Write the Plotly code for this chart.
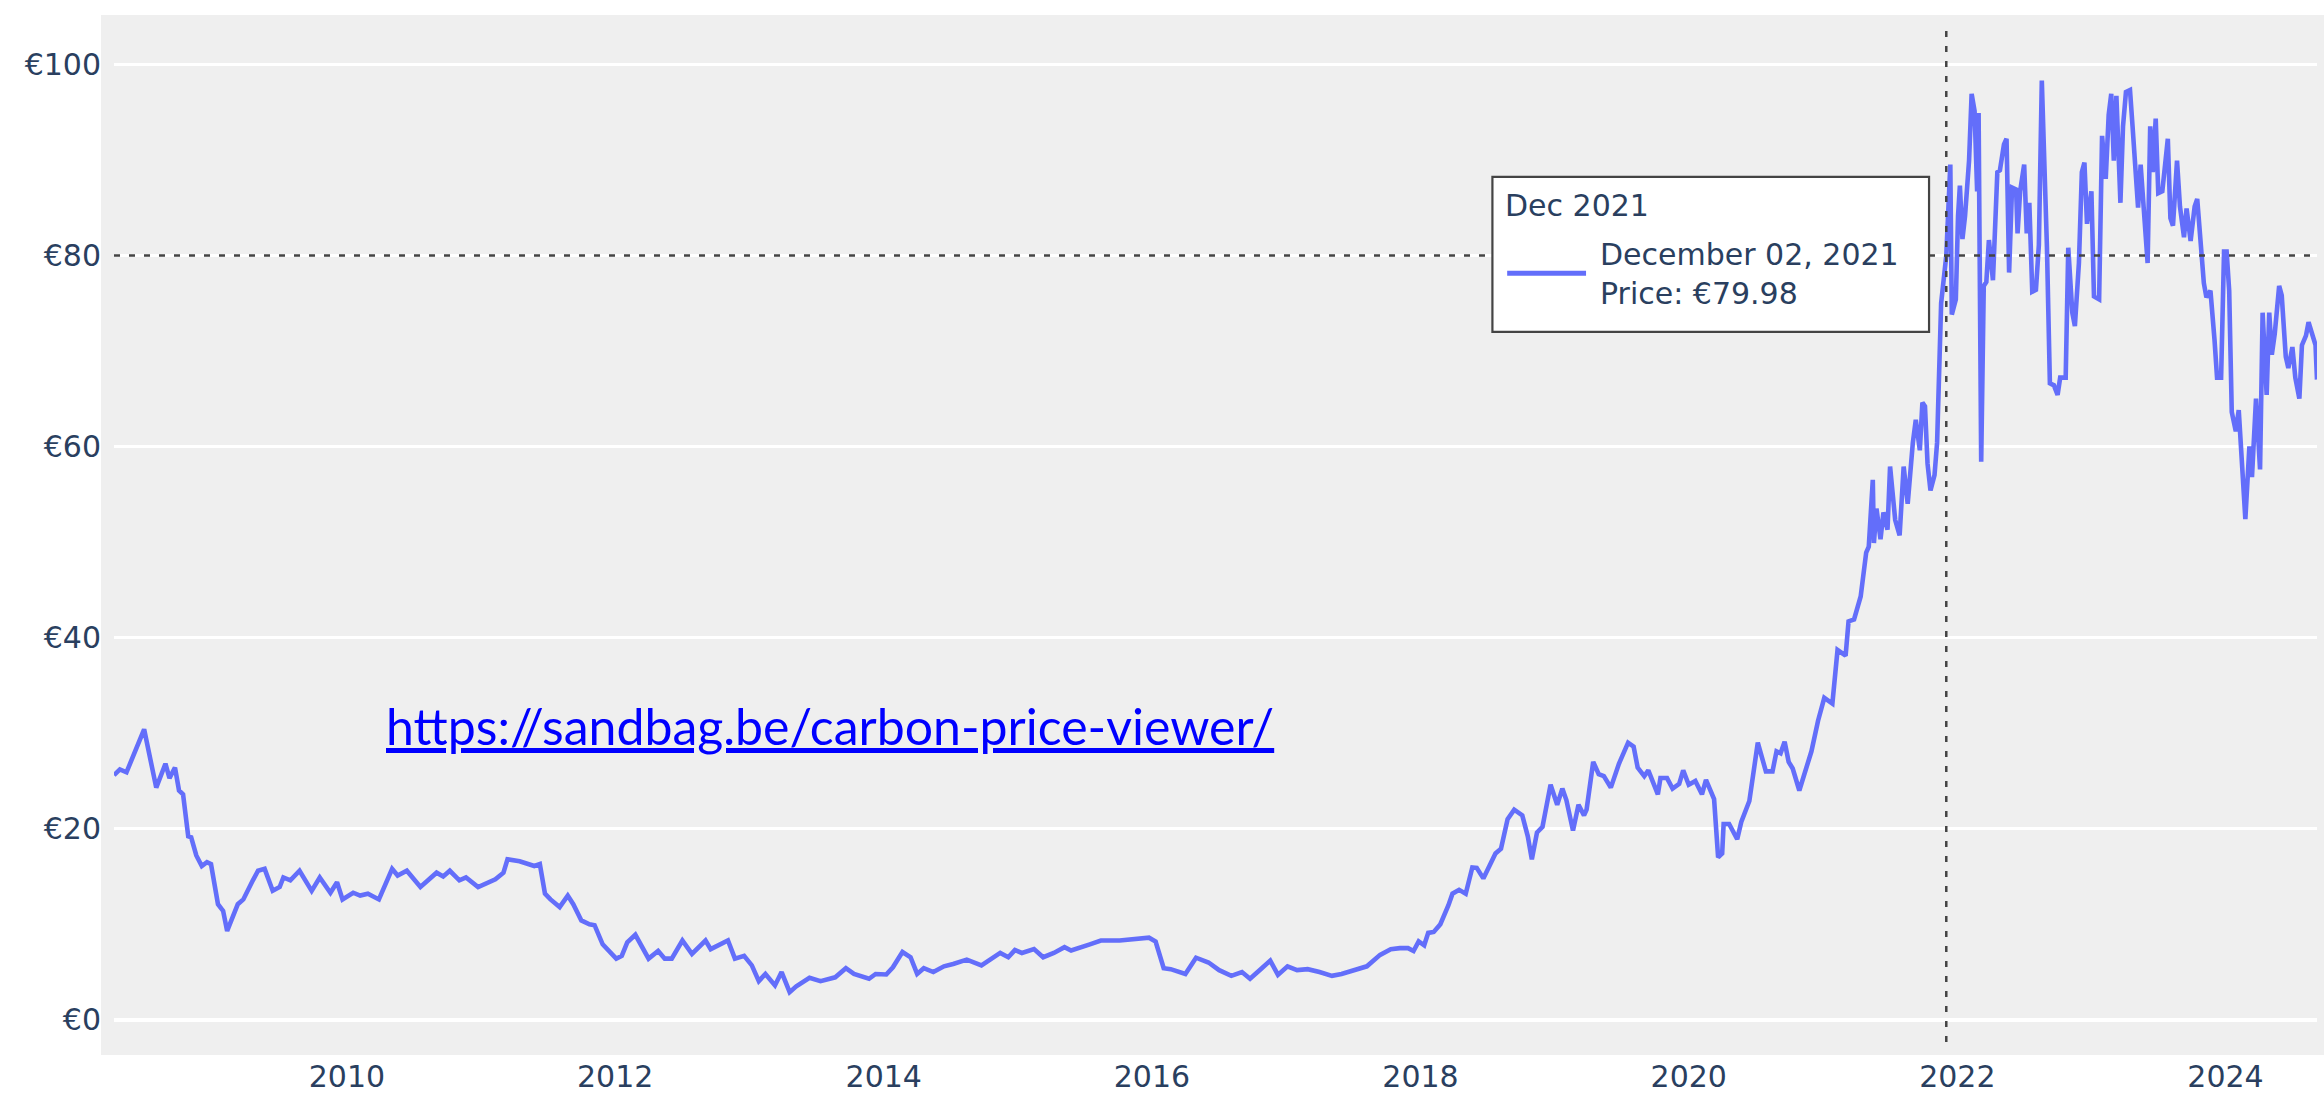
import plotly.graph_objects as go

# EU ETS carbon price (roughly weekly where it moves a lot)
dates = [
    "2008-04-07", "2008-04-23", "2008-05-11", "2008-06-28", "2008-07-31", "2008-08-25",
    "2008-09-05", "2008-09-20", "2008-10-01", "2008-10-12", "2008-10-26", "2008-11-03",
    "2008-11-17", "2008-12-02", "2008-12-16", "2008-12-27",
    "2009-01-15", "2009-01-29", "2009-02-09", "2009-02-24", "2009-03-10", "2009-03-25",
    "2009-04-09", "2009-04-20", "2009-05-04", "2009-05-22", "2009-06-13", "2009-07-02",
    "2009-07-12", "2009-07-31", "2009-08-25", "2009-09-27", "2009-10-19", "2009-11-17",
    "2009-12-05", "2009-12-20",
    "2010-01-18", "2010-02-06", "2010-02-27", "2010-03-29", "2010-05-04", "2010-05-19",
    "2010-06-13", "2010-07-20", "2010-09-02", "2010-09-20", "2010-10-08", "2010-11-03",
    "2010-11-21", "2010-12-24",
    "2011-02-09", "2011-03-03", "2011-03-14", "2011-04-16", "2011-05-26", "2011-06-10",
    "2011-06-24", "2011-07-09", "2011-08-03", "2011-08-25", "2011-09-09", "2011-10-01",
    "2011-10-23", "2011-11-06", "2011-11-28", "2011-12-13",
    "2012-01-04", "2012-01-19", "2012-02-03", "2012-02-25", "2012-04-01", "2012-04-27",
    "2012-05-15", "2012-06-03", "2012-07-02", "2012-07-28", "2012-08-19", "2012-09-03",
    "2012-09-17", "2012-10-12", "2012-11-03", "2012-11-22", "2012-12-17",
    "2013-01-07", "2013-01-26", "2013-02-13", "2013-03-11", "2013-03-29", "2013-04-20",
    "2013-05-08", "2013-06-13", "2013-07-13", "2013-08-22", "2013-09-20", "2013-10-12",
    "2013-11-22", "2013-12-10",
    "2014-01-08", "2014-01-26", "2014-02-21", "2014-03-15", "2014-04-02", "2014-04-20",
    "2014-05-16", "2014-06-14", "2014-07-09", "2014-08-15", "2014-09-24", "2014-11-14",
    "2014-12-06", "2014-12-24",
    "2015-01-12", "2015-02-14", "2015-03-11", "2015-04-09", "2015-05-08", "2015-05-26",
    "2015-07-16", "2015-08-15", "2015-10-05", "2015-10-24", "2015-12-24",
    "2016-01-11", "2016-02-02", "2016-02-21", "2016-04-01", "2016-04-30", "2016-06-03",
    "2016-07-02", "2016-08-04", "2016-09-02", "2016-09-24", "2016-10-23", "2016-11-18",
    "2016-12-09",
    "2017-01-04", "2017-01-30", "2017-02-28", "2017-04-01", "2017-05-05", "2017-05-31",
    "2017-07-09", "2017-08-08", "2017-09-13", "2017-10-12", "2017-11-06", "2017-11-28",
    "2017-12-13", "2017-12-27",
    "2018-01-11", "2018-01-22", "2018-02-06", "2018-02-24", "2018-03-18", "2018-03-29",
    "2018-04-16", "2018-05-04", "2018-05-22", "2018-06-03", "2018-06-21", "2018-07-24",
    "2018-08-08", "2018-08-26", "2018-09-13", "2018-10-05", "2018-10-20", "2018-10-31",
    "2018-11-14", "2018-11-29", "2018-12-06", "2018-12-21",
    "2019-01-08", "2019-01-22", "2019-02-02", "2019-02-20", "2019-03-07", "2019-03-22",
    "2019-03-29", "2019-04-16", "2019-05-01", "2019-05-15", "2019-06-03", "2019-06-25",
    "2019-07-20", "2019-08-04", "2019-08-15", "2019-09-02", "2019-09-13", "2019-10-09",
    "2019-10-16", "2019-11-03", "2019-11-18", "2019-12-06", "2019-12-17",
    "2020-01-01", "2020-01-19", "2020-02-06", "2020-02-17", "2020-03-10", "2020-03-21",
    "2020-04-01", "2020-04-05", "2020-04-20", "2020-05-12", "2020-05-23", "2020-06-14",
    "2020-07-07", "2020-07-29", "2020-08-16", "2020-08-27", "2020-09-07", "2020-09-18",
    "2020-09-29", "2020-10-10", "2020-10-28", "2020-11-30", "2020-12-18",
    "2021-01-04", "2021-01-26", "2021-02-09", "2021-03-03", "2021-03-11", "2021-03-26",
    "2021-04-13", "2021-04-28", "2021-05-05", "2021-05-16", "2021-05-19", "2021-05-26",
    "2021-06-06", "2021-06-14", "2021-06-25", "2021-07-02", "2021-07-16", "2021-07-28",
    "2021-08-08", "2021-08-19", "2021-09-02", "2021-09-10", "2021-09-21", "2021-09-28",
    "2021-10-05", "2021-10-12", "2021-10-20", "2021-10-31", "2021-11-07", "2021-11-18",
    "2021-12-02", "2021-12-13", "2021-12-17", "2021-12-28",
    "2022-01-03", "2022-01-08", "2022-01-15", "2022-01-22", "2022-02-02", "2022-02-09",
    "2022-02-17", "2022-02-24", "2022-02-28", "2022-03-03", "2022-03-07", "2022-03-14",
    "2022-03-21", "2022-03-28", "2022-04-08", "2022-04-20", "2022-04-27", "2022-05-08",
    "2022-05-15", "2022-05-22", "2022-05-30", "2022-06-10", "2022-06-14", "2022-06-21",
    "2022-07-02", "2022-07-09", "2022-07-16", "2022-07-24", "2022-08-03", "2022-08-11",
    "2022-08-19", "2022-09-02", "2022-09-10", "2022-09-21", "2022-10-01", "2022-10-08",
    "2022-10-23", "2022-10-30", "2022-11-10", "2022-11-17", "2022-11-28", "2022-12-06",
    "2022-12-13", "2022-12-20",
    "2023-01-01", "2023-01-08", "2023-01-22", "2023-01-30", "2023-02-09", "2023-02-17",
    "2023-02-24", "2023-03-03", "2023-03-10", "2023-03-21", "2023-03-28", "2023-04-05",
    "2023-04-16", "2023-04-23", "2023-05-01", "2023-05-08", "2023-05-15", "2023-05-22",
    "2023-06-03", "2023-06-10", "2023-06-17", "2023-06-25", "2023-07-02", "2023-07-13",
    "2023-07-28", "2023-08-04", "2023-08-11", "2023-08-22", "2023-08-30", "2023-09-10",
    "2023-09-17", "2023-09-28", "2023-10-09", "2023-10-16", "2023-10-27", "2023-11-03",
    "2023-11-10", "2023-11-21", "2023-12-02", "2023-12-09", "2023-12-20", "2023-12-28",
    "2024-01-04", "2024-01-11", "2024-01-18", "2024-01-29", "2024-02-06", "2024-02-17",
    "2024-02-24", "2024-03-06", "2024-03-13", "2024-03-24", "2024-04-04", "2024-04-11",
    "2024-04-22", "2024-04-29", "2024-05-06", "2024-05-14", "2024-05-26", "2024-06-02",
    "2024-06-13", "2024-06-20", "2024-07-01", "2024-07-09", "2024-07-20", "2024-07-27",
    "2024-08-07", "2024-08-14", "2024-08-25", "2024-09-02", "2024-09-06",
]

prices = [
    25.6, 26.2, 25.9, 30.4, 24.3, 26.8,
    25.3, 26.4, 24.0, 23.6, 19.2, 19.1,
    17.2, 16.1, 16.5, 16.3,
    12.1, 11.4, 9.3, 10.9, 12.1, 12.6,
    13.9, 14.6, 15.6, 15.8, 13.5, 13.9,
    14.9, 14.6, 15.6, 13.5, 14.9, 13.3,
    14.4, 12.6,
    13.3, 13.0, 13.2, 12.6, 15.8, 15.1,
    15.6, 13.9, 15.4, 15.0, 15.6, 14.6,
    14.9, 13.9,
    14.7, 15.4, 16.8, 16.6, 16.1, 16.3,
    13.2, 12.6, 11.8, 13.0, 12.1, 10.4,
    10.0, 9.9, 7.9, 7.25,
    6.4, 6.7, 8.1, 8.9, 6.4, 7.2,
    6.4, 6.4, 8.3, 6.9, 7.8, 8.3,
    7.4, 7.9, 8.3, 6.4, 6.7,
    5.7, 4.05, 4.8, 3.6, 5.0, 2.9,
    3.5, 4.4, 4.05, 4.45, 5.4, 4.8,
    4.3, 4.8,
    4.75, 5.5, 7.1, 6.55, 4.8, 5.4,
    5.0, 5.6, 5.85, 6.3, 5.7, 7.0,
    6.55, 7.3,
    7.0, 7.4, 6.55, 7.0, 7.6, 7.25,
    7.9, 8.3, 8.3, 8.4, 8.6,
    8.2, 5.4, 5.3, 4.8, 6.5, 6.0,
    5.2, 4.6, 5.0, 4.3, 5.3, 6.2,
    4.7,
    5.6, 5.2, 5.3, 5.0, 4.6, 4.8,
    5.3, 5.6, 6.8, 7.4, 7.5, 7.5,
    7.2, 8.2,
    7.8, 9.1, 9.2, 10.0, 12.0, 13.2,
    13.6, 13.2, 15.95, 15.9, 14.8, 17.4,
    17.9, 21.0, 22.0, 21.4, 19.2, 16.8,
    19.6, 20.2, 21.6, 24.6,
    22.5, 24.2, 23.0, 19.8, 22.5, 21.4,
    22.0, 27.0, 25.7, 25.5, 24.3, 26.8,
    29.0, 28.6, 26.4, 25.5, 26.1, 23.6,
    25.3, 25.3, 24.2, 24.7, 26.1,
    24.6, 25.0, 23.6, 25.1, 23.1, 17.0,
    17.4, 20.5, 20.5, 18.9, 20.7, 22.9,
    29.0, 26.0, 26.0, 28.1, 27.9, 29.1,
    27.0, 26.3, 24.0, 28.1, 31.3,
    33.7, 33.1, 38.7, 38.1, 41.7, 41.9,
    44.3, 48.9, 49.5, 56.5, 49.9, 53.5,
    50.3, 53.1, 51.3, 57.9, 52.3, 50.7,
    57.9, 54.0, 60.4, 62.8, 59.6, 64.6,
    64.2, 58.2, 55.4, 57.0, 60.4, 75.0,
    79.98, 89.5, 73.8, 75.4,
    84.1, 87.3, 81.7, 84.1, 89.9, 96.9,
    95.1, 86.7, 94.9, 80.4, 58.4, 76.8,
    77.2, 81.6, 77.4, 88.7, 88.9, 91.6,
    92.2, 78.2, 87.1, 86.9, 82.3, 86.7,
    89.5, 82.3, 85.5, 76.2, 76.4, 81.1,
    98.3, 80.8, 66.6, 66.4, 65.4, 67.2,
    67.2, 80.8, 74.0, 72.6, 79.2, 88.7,
    89.7, 83.3,
    86.7, 75.7, 75.4, 92.5, 88.0, 94.7,
    96.9, 89.9, 96.7, 85.5, 93.5, 97.1,
    97.3, 93.5, 89.7, 85.0, 89.5, 86.1,
    79.2, 93.5, 88.7, 94.3, 86.5, 86.7,
    92.2, 83.9, 83.1, 89.9, 85.1, 81.9,
    84.9, 81.5, 85.1, 85.9, 81.1, 77.1,
    75.6, 76.3, 71.2, 67.2, 67.2, 80.4,
    80.4, 76.3, 63.6, 61.6, 63.8, 57.6,
    52.4, 60.0, 56.8, 65.0, 57.6, 74.0,
    65.4, 74.0, 69.6, 71.8, 76.8, 75.8,
    69.4, 68.2, 70.4, 67.2, 65.0, 70.6,
    71.6, 73.0, 71.6, 70.6, 67.0,
]

y_ticks = [0, 20, 40, 60, 80, 100]
y_tick_text = ["€0", "€20", "€40", "€60", "€80", "€100"]

hover_date = "2021-12-02"
hover_title = "Dec 2021"
hover_lines = ["December 02, 2021", "Price: €79.98"]
hover_price = prices[dates.index(hover_date)]

source_url = "https://sandbag.be/carbon-price-viewer/"

LINE = "#636efa"
BG = "#efefef"
TEXT = "#2a3f5f"
SPIKE = "#444444"
FONT = "Verdana, DejaVu Sans, sans-serif"

fig = go.Figure()
fig.add_trace(
    go.Scatter(
        x=dates,
        y=prices,
        mode="lines",
        name="Price",
        line={"color": LINE, "width": 4.6},
        hovertemplate="%{x|%B %d, %Y}<br>Price: €%{y:.2f}<extra></extra>",
    )
)

shapes = [
    # grey panel that sticks out a little beyond the plotting area
    dict(type="rect", xref="paper", yref="paper", x0=-0.0059, x1=1.006, y0=-0.0128, y1=1.0108,
         fillcolor=BG, line={"width": 0}, layer="below"),
    # frozen spike lines of the hover
    dict(type="line", xref="x", yref="paper", x0=hover_date, x1=hover_date, y0=0, y1=1,
         line={"color": SPIKE, "width": 2.5, "dash": "6px,9px"}, layer="above"),
    dict(type="line", xref="paper", yref="y", x0=0, x1=1, y0=hover_price, y1=hover_price,
         line={"color": SPIKE, "width": 2.5, "dash": "6px,9px"}, layer="above"),
    # hover box
    dict(type="rect", xref="paper", yref="paper", x0=0.6257, x1=0.8239, y0=0.6990, y1=0.8515,
         fillcolor="white", line={"color": SPIKE, "width": 2.2}, layer="above"),
    dict(type="line", xref="paper", yref="paper", x0=0.6324, x1=0.6682, y0=0.7566, y1=0.7566,
         line={"color": LINE, "width": 5}, layer="above"),
]

annotations = [
    dict(xref="paper", yref="paper", x=0.6305, y=0.8229, xanchor="left", yanchor="middle",
         text=hover_title, showarrow=False, font={"family": FONT, "size": 30, "color": TEXT}),
    dict(xref="paper", yref="paper", x=0.6736, y=0.7561, xanchor="left", yanchor="middle",
         align="left", text="<br>".join(hover_lines), showarrow=False,
         font={"family": FONT, "size": 30, "color": TEXT}),
    dict(xref="paper", yref="paper", x=0.3248, y=0.311, xanchor="center", yanchor="middle",
         text=f"<u>{source_url}</u>", showarrow=False,
         font={"family": "Lato, sans-serif", "size": 50, "color": "#0000ff"}),
]

fig.update_layout(
    width=2324,
    height=1101,
    margin={"l": 114, "r": 7, "t": 26, "b": 56},
    paper_bgcolor="white",
    plot_bgcolor=BG,
    showlegend=False,
    font={"family": FONT, "size": 30, "color": TEXT},
    shapes=shapes,
    annotations=annotations,
)
fig.update_xaxes(
    range=[dates[0], dates[-1]],
    showgrid=False,
    zeroline=False,
    tickformat="%Y",
    tick0="2010-01-01",
    dtick="M24",
    tickfont={"family": FONT, "size": 30, "color": TEXT},
    ticklabelstandoff=14,
)
fig.update_yaxes(
    range=[-2.32, 104.0],
    tickvals=y_ticks,
    ticktext=y_tick_text,
    gridcolor="white",
    gridwidth=2.5,
    zeroline=True,
    zerolinecolor="white",
    zerolinewidth=4,
    tickfont={"family": FONT, "size": 30, "color": TEXT},
    ticklabelstandoff=12,
)

fig.write_html(
    "out.html",
    config={"displayModeBar": False},
    post_script="document.body.style.margin='0';document.body.style.overflow='hidden';",
)
